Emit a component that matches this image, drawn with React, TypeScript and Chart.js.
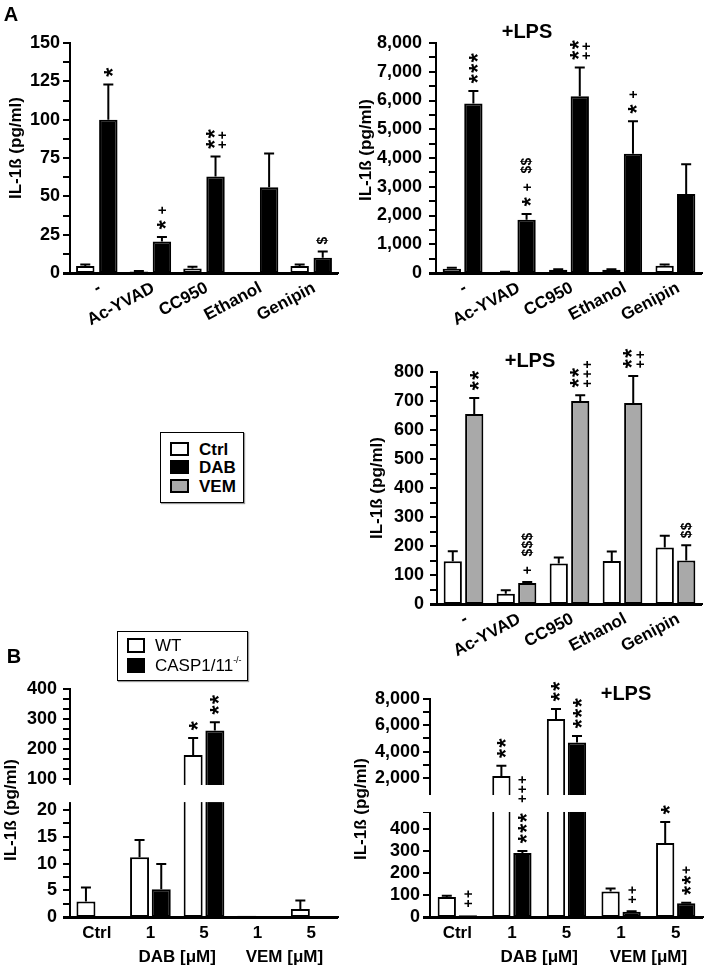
import React, { useEffect, useRef } from 'react';
import { Chart, registerables, LinearScale } from 'chart.js';

Chart.register(...registerables);

const FONT = "'Liberation Sans', Arial, Helvetica, sans-serif";
const Y_TITLE = 'IL-1ß (pg/ml)';
const WHITE = '#ffffff';
const BLACK = '#000000';
const GREY = '#a9a9a9';

// ---------------- Panel A data ----------------
const aCategories = ['-', 'Ac-YVAD', 'CC950', 'Ethanol', 'Genipin'];
const noMarks = ['', '', '', '', ''];

// A, top-left (no LPS)
const a1CtrlValues = [4.5, 1, 3, 0.4, 4.5];
const a1CtrlErrors = [1, 0.3, 1, 0, 1];
const a1DabValues = [100, 20.5, 63, 56, 10];
const a1DabErrors = [23, 3, 13, 22, 4];
const a1DabMarks = ['*', '* +', '**|++', '', '$'];
const a1YTickLabels = [0, 25, 50, 75, 100, 125, 150];
const a1YMinorStep = 12.5;

// A, top-right (+LPS, DAB)
const a2CtrlValues = [150, 30, 110, 110, 250];
const a2CtrlErrors = [30, 10, 20, 20, 50];
const a2DabValues = [5900, 1850, 6150, 4150, 2750];
const a2DabErrors = [430, 200, 1000, 1130, 1030];
const a2DabMarks = ['***', '* +  $$', '**|++', '* +', ''];
const a2YTickLabels = [0, 1000, 2000, 3000, 4000, 5000, 6000, 7000, 8000];
const a2YMinorStep = 500;

// A, middle-right (+LPS, VEM)
const a3CtrlValues = [147, 35, 140, 148, 195];
const a3CtrlErrors = [35, 12, 20, 33, 40];
const a3VemValues = [655, 72, 700, 693, 150];
const a3VemErrors = [55, 4, 20, 93, 53];
const a3VemMarks = ['**', '+  $$$', '**|+++', '**|++', '$$'];
const a3YTickLabels = [0, 100, 200, 300, 400, 500, 600, 700, 800];
const a3YMinorStep = 50;

// ---------------- Panel B data ----------------
const bCategories = ['Ctrl', '1', '5', '1', '5'];
const bGroupLabels = ['DAB [μM]', 'VEM [μM]'];
const bGroupFirst = [1, 3];
const bGroupLast = [2, 4];

// B, bottom-left (no LPS), broken axis
const b1WtValues = [2.9, 11.2, 180, 0.25, 1.5];
const b1WtErrors = [2.6, 3.2, 57, 0, 1.6];
const b1KoValues = [0, 5.2, 262, 0, 0];
const b1KoErrors = [0, 4.7, 27, 0, 0];
const b1WtMarks = ['', '', '*', '', ''];
const b1KoMarks = ['', '', '**', '', ''];
const b1YTickLabels = [0, 5, 10, 15, 20, 100, 200, 300, 400];
const b1LowerRange = [0, 21.5];
const b1UpperRange = [80, 400];
const b1LowerMinorStep = 2.5;
const b1UpperMinorStep = 100 / 3;

// B, bottom-right (+LPS), broken axis
const b2WtValues = [90, 2150, 6480, 115, 335];
const b2WtErrors = [6, 780, 760, 14, 95];
const b2KoValues = [8, 290, 4700, 24, 62];
const b2KoErrors = [0, 8, 480, 2, 3];
const b2WtMarks = ['', '**', '**', '', '*'];
const b2KoMarks = ['++', '***  +++', '***', '++', '**+'];
const b2YTickLabels = [0, 100, 200, 300, 400, 2000, 4000, 6000, 8000];
const b2LowerRange = [0, 475];
const b2UpperRange = [700, 8000];
const b2LowerMinorStep = 100;
const b2UpperMinorStep = 1000;

// ---------------- helpers ----------------
function steps(from: number, to: number, step: number): number[] {
  const out: number[] = [];
  for (let i = 0; from + i * step <= to + 1e-9; i++) out.push(+(from + i * step).toFixed(6));
  return out;
}
function fmt(v: number, comma: boolean) {
  const s = String(Math.round(v));
  return comma ? s.replace(/\B(?=(\d{3})+(?!\d))/g, ',') : s;
}

type Seg = { min: number; max: number; start: number; end: number };
const brokenRegistry = new WeakMap<HTMLCanvasElement, { segments: Seg[]; ticks: number[] }>();

class BrokenLinearScale extends LinearScale {
  static id = 'brokenLinear';
  segInfo() {
    return brokenRegistry.get((this as any).chart.canvas)!;
  }
  buildTicks() {
    return this.segInfo().ticks.map((value) => ({ value }));
  }
  getPixelForValue(value: number) {
    if (value === null || value === undefined || Number.isNaN(value)) return NaN;
    const segs = this.segInfo().segments;
    const s = segs.find((sg) => value <= sg.max) || segs[segs.length - 1];
    let dec: number;
    if (value < s.min && s !== segs[0]) dec = s.start;
    else dec = s.start + ((value - s.min) / (s.max - s.min)) * (s.end - s.start);
    return (this as any).getPixelForDecimal(dec);
  }
  getValueForPixel(pixel: number) {
    const dec = (this as any).getDecimalForPixel(pixel);
    const segs = this.segInfo().segments;
    for (const s of segs) {
      if (dec <= s.end) return s.min + (Math.max(0, dec - s.start) / (s.end - s.start)) * (s.max - s.min);
    }
    const s = segs[segs.length - 1];
    return s.min + ((dec - s.start) / (s.end - s.start)) * (s.max - s.min);
  }
}
Chart.register(BrokenLinearScale as any);

type Series = { values: number[]; errors: number[]; marks: string[]; fill: string };
type YSpec =
  | { kind: 'linear'; min: number; max: number; step: number; labels: number[]; comma: boolean }
  | { kind: 'broken'; segments: Seg[]; ticks: number[]; labels: number[]; comma: boolean };
type PanelSpec = {
  key: string;
  canvas: { left: number; top: number; width: number; height: number };
  area: { left: number; top: number; right: number; bottom: number };
  titleCenter: { x: number; y: number };
  categories: string[];
  series: Series[];
  y: YSpec;
  rotate: number;
  catPct: number;
  barPct: number;
  tickPad: number;
  groups?: { labels: string[]; first: number[]; last: number[] };
};

const MARK_GLYPH: Record<string, { size: number; adv: number }> = {
  '*': { size: 23, adv: 10.5 },
  '+': { size: 14, adv: 9.5 },
  $: { size: 14, adv: 8 },
  ' ': { size: 14, adv: 4.5 },
};

function drawColumn(ctx: CanvasRenderingContext2D, text: string, x: number, bottom: number) {
  let y = bottom;
  for (const ch of text) {
    const g = MARK_GLYPH[ch] || { size: 15, adv: 9 };
    const cy = y - g.adv / 2;
    if (ch !== ' ') {
      ctx.font = `bold ${g.size}px ${FONT}`;
      ctx.textAlign = 'left';
      ctx.textBaseline = 'alphabetic';
      const m = ctx.measureText(ch);
      const gx = (m.actualBoundingBoxRight - m.actualBoundingBoxLeft) / 2;
      const gy = (m.actualBoundingBoxDescent - m.actualBoundingBoxAscent) / 2;
      ctx.save();
      ctx.translate(x, cy);
      ctx.rotate(-Math.PI / 2);
      ctx.fillStyle = '#000';
      ctx.fillText(ch, -gx, -gy);
      ctx.restore();
    }
    y -= g.adv;
  }
}

function makeOverlay(spec: PanelSpec) {
  return {
    id: 'overlay_' + spec.key,
    afterDraw(chart: any) {
      const ctx: CanvasRenderingContext2D = chart.ctx;
      const area = chart.chartArea;
      const y = chart.scales.y;
      const x = chart.scales.x;
      ctx.save();
      // axis title
      ctx.save();
      ctx.translate(spec.titleCenter.x - spec.canvas.left, spec.titleCenter.y - spec.canvas.top);
      ctx.rotate(-Math.PI / 2);
      ctx.font = `bold 17px ${FONT}`;
      ctx.fillStyle = '#000';
      ctx.textAlign = 'center';
      ctx.textBaseline = 'middle';
      ctx.fillText(Y_TITLE, 0, 0);
      ctx.restore();
      // x axis line on top of the bar bases
      ctx.fillStyle = '#000';
      ctx.fillRect(area.left - 7, area.bottom - 1, area.right - area.left + 7, 3);
      // axis break
      if (spec.y.kind === 'broken') {
        const segs = spec.y.segments;
        for (let i = 0; i < segs.length - 1; i++) {
          const pLow = y.getPixelForValue(segs[i].max);
          const pHigh = y.getPixelForValue(segs[i + 1].min);
          ctx.fillStyle = '#fff';
          ctx.fillRect(area.left - 10, pHigh, area.right - area.left + 12, pLow - pHigh);
        }
      }
      spec.series.forEach((s, di) => {
        const meta = chart.getDatasetMeta(di);
        s.values.forEach((v, i) => {
          const bar = meta.data[i];
          if (!bar) return;
          const err = s.errors[i];
          const yTop = y.getPixelForValue(v + err);
          if (err > 0) {
            const yBar = y.getPixelForValue(v);
            ctx.strokeStyle = '#000';
            ctx.lineWidth = 2;
            ctx.beginPath();
            ctx.moveTo(bar.x, yBar);
            ctx.lineTo(bar.x, yTop);
            ctx.moveTo(bar.x - 5, yTop);
            ctx.lineTo(bar.x + 5, yTop);
            ctx.stroke();
          }
          const mark = s.marks[i];
          if (mark) {
            const cols = mark.split('|');
            const offs = cols.length === 1 ? [0] : [-5.5, 6.5];
            cols.forEach((c, ci) => drawColumn(ctx, c, bar.x + offs[ci], yTop - 7));
          }
        });
      });
      if (spec.groups) {
        ctx.font = `bold 17px ${FONT}`;
        ctx.fillStyle = '#000';
        ctx.textAlign = 'center';
        ctx.textBaseline = 'middle';
        spec.groups.labels.forEach((t, gi) => {
          const cx = (x.getPixelForValue(spec.groups!.first[gi]) + x.getPixelForValue(spec.groups!.last[gi])) / 2;
          ctx.fillText(t, cx, area.bottom + 40);
        });
      }
      ctx.restore();
    },
  };
}

function buildConfig(spec: PanelSpec): any {
  const { canvas, area } = spec;
  const yLabelSet = spec.y.labels;
  const comma = spec.y.comma;
  const tickCallback = (v: any) => (yLabelSet.some((l) => Math.abs(l - Number(v)) < 1e-6) ? fmt(Number(v), comma) : '');
  const yCommon = {
    grid: {
      drawOnChartArea: false,
      drawTicks: true,
      tickLength: 7,
      color: '#000',
      lineWidth: (c: any) => (c.tick && Math.abs(c.tick.value) < 1e-9 ? 0 : 2),
    },
    border: { display: true, color: '#000', width: 2 },
    ticks: { color: '#000', font: { family: FONT, size: 18, weight: 'bold' }, padding: spec.tickPad, autoSkip: false, callback: tickCallback },
    title: { display: false },
    afterFit: (s: any) => {
      s.width = area.left - canvas.left;
    },
  };
  const yScale =
    spec.y.kind === 'linear'
      ? { ...yCommon, type: 'linear', min: spec.y.min, max: spec.y.max, ticks: { ...yCommon.ticks, stepSize: spec.y.step } }
      : { ...yCommon, type: 'brokenLinear', min: spec.y.segments[0].min, max: spec.y.segments[spec.y.segments.length - 1].max };
  return {
    type: 'bar',
    data: {
      labels: spec.categories,
      datasets: spec.series.map((s) => ({
        data: s.values,
        backgroundColor: s.fill,
        borderColor: '#000',
        borderWidth: 2,
        borderSkipped: false,
        categoryPercentage: spec.catPct,
        barPercentage: spec.barPct,
      })),
    },
    options: {
      animation: false,
      responsive: false,
      maintainAspectRatio: false,
      events: [],
      layout: {
        padding: { left: 0, top: area.top - canvas.top, right: canvas.left + canvas.width - area.right, bottom: 0 },
      },
      plugins: { legend: { display: false }, tooltip: { enabled: false }, title: { display: false } },
      scales: {
        x: {
          type: 'category',
          offset: true,
          grid: { display: false, drawTicks: false },
          border: { display: true, color: '#000', width: 2 },
          ticks: {
            color: '#000',
            font: { family: FONT, size: 17, weight: 'bold' },
            autoSkip: false,
            maxRotation: spec.rotate,
            minRotation: spec.rotate,
            padding: spec.rotate ? 5 : 6,
            labelOffset: spec.rotate ? 3 : 0,
          },
          afterFit: (s: any) => {
            s.height = canvas.top + canvas.height - area.bottom;
          },
        },
        y: yScale,
      },
    },
    plugins: [makeOverlay(spec)],
  };
}

function brokenTicks(lower: number[], lowerStep: number, upper: number[], upperStep: number, upperFirst: number) {
  return [...steps(lower[0], lower[1], lowerStep), ...steps(upperFirst, upper[1], upperStep)];
}

const panels: PanelSpec[] = [
  {
    key: 'a1',
    canvas: { left: 2, top: 0, width: 343, height: 335 },
    area: { left: 70, top: 43, right: 338, bottom: 273 },
    titleCenter: { x: 16, y: 148 },
    categories: aCategories,
    series: [
      { values: a1CtrlValues, errors: a1CtrlErrors, marks: noMarks, fill: WHITE },
      { values: a1DabValues, errors: a1DabErrors, marks: a1DabMarks, fill: BLACK },
    ],
    y: { kind: 'linear', min: 0, max: 150, step: a1YMinorStep, labels: a1YTickLabels, comma: false },
    rotate: 28,
    catPct: 0.86,
    barPct: 0.8,
    tickPad: 3,
  },
  {
    key: 'a2',
    canvas: { left: 352, top: 0, width: 353, height: 335 },
    area: { left: 436, top: 43, right: 702, bottom: 273 },
    titleCenter: { x: 366, y: 150 },
    categories: aCategories,
    series: [
      { values: a2CtrlValues, errors: a2CtrlErrors, marks: noMarks, fill: WHITE },
      { values: a2DabValues, errors: a2DabErrors, marks: a2DabMarks, fill: BLACK },
    ],
    y: { kind: 'linear', min: 0, max: 8000, step: a2YMinorStep, labels: a2YTickLabels, comma: true },
    rotate: 28,
    catPct: 0.81,
    barPct: 0.85,
    tickPad: 7,
  },
  {
    key: 'a3',
    canvas: { left: 363, top: 320, width: 342, height: 345 },
    area: { left: 437, top: 372, right: 702, bottom: 604 },
    titleCenter: { x: 377, y: 488 },
    categories: aCategories,
    series: [
      { values: a3CtrlValues, errors: a3CtrlErrors, marks: noMarks, fill: WHITE },
      { values: a3VemValues, errors: a3VemErrors, marks: a3VemMarks, fill: GREY },
    ],
    y: { kind: 'linear', min: 0, max: 800, step: a3YMinorStep, labels: a3YTickLabels, comma: false },
    rotate: 28,
    catPct: 0.81,
    barPct: 0.85,
    tickPad: 6,
  },
  {
    key: 'b1',
    canvas: { left: 0, top: 640, width: 345, height: 329 },
    area: { left: 70, top: 689, right: 338, bottom: 917 },
    titleCenter: { x: 11, y: 810 },
    categories: bCategories,
    series: [
      { values: b1WtValues, errors: b1WtErrors, marks: b1WtMarks, fill: WHITE },
      { values: b1KoValues, errors: b1KoErrors, marks: b1KoMarks, fill: BLACK },
    ],
    y: {
      kind: 'broken',
      segments: [
        { min: b1LowerRange[0], max: b1LowerRange[1], start: 0, end: 0.504 },
        { min: b1UpperRange[0], max: b1UpperRange[1], start: 0.579, end: 1 },
      ],
      ticks: brokenTicks(b1LowerRange, b1LowerMinorStep, b1UpperRange, b1UpperMinorStep, 100),
      labels: b1YTickLabels,
      comma: false,
    },
    rotate: 0,
    catPct: 0.81,
    barPct: 0.875,
    tickPad: 6,
    groups: { labels: bGroupLabels, first: bGroupFirst, last: bGroupLast },
  },
  {
    key: 'b2',
    canvas: { left: 347, top: 640, width: 358, height: 329 },
    area: { left: 430, top: 699, right: 703, bottom: 917 },
    titleCenter: { x: 361, y: 809 },
    categories: bCategories,
    series: [
      { values: b2WtValues, errors: b2WtErrors, marks: b2WtMarks, fill: WHITE },
      { values: b2KoValues, errors: b2KoErrors, marks: b2KoMarks, fill: BLACK },
    ],
    y: {
      kind: 'broken',
      segments: [
        { min: b2LowerRange[0], max: b2LowerRange[1], start: 0, end: 0.4817 },
        { min: b2UpperRange[0], max: b2UpperRange[1], start: 0.5596, end: 1 },
      ],
      ticks: [...steps(0, 400, b2LowerMinorStep), b2LowerRange[1], ...steps(2000, b2UpperRange[1], b2UpperMinorStep)],
      labels: b2YTickLabels,
      comma: true,
    },
    rotate: 0,
    catPct: 0.77,
    barPct: 0.87,
    tickPad: 3,
    groups: { labels: bGroupLabels, first: bGroupFirst, last: bGroupLast },
  },
];

function BarPanel({ spec }: { spec: PanelSpec }) {
  const ref = useRef<HTMLCanvasElement>(null);
  useEffect(() => {
    const canvas = ref.current!;
    if (spec.y.kind === 'broken') brokenRegistry.set(canvas, { segments: spec.y.segments, ticks: spec.y.ticks });
    const chart = new Chart(canvas, buildConfig(spec));
    return () => chart.destroy();
  }, [spec]);
  const c = spec.canvas;
  return (
    <canvas
      ref={ref}
      width={c.width}
      height={c.height}
      style={{ position: 'absolute', left: c.left, top: c.top, width: c.width, height: c.height }}
    />
  );
}

function CenterText({ x, y, size, weight, children }: { x: number; y: number; size: number; weight: string; children: any }) {
  return (
    <div
      style={{
        position: 'absolute',
        left: x,
        top: y,
        transform: 'translate(-50%, -50%)',
        fontSize: size,
        fontWeight: weight as any,
        lineHeight: 1,
        whiteSpace: 'nowrap',
        color: '#000',
      }}
    >
      {children}
    </div>
  );
}

function LegendRow({ top, fill, label, weight, size, sq }: any) {
  return (
    <>
      <div
        style={{
          position: 'absolute',
          left: sq.left,
          top: top - sq.h / 2,
          width: sq.w,
          height: sq.h,
          boxSizing: 'border-box',
          border: '2px solid #000',
          background: fill,
        }}
      />
      <div
        style={{
          position: 'absolute',
          left: sq.textLeft,
          top: top,
          transform: 'translateY(-50%)',
          fontSize: size,
          fontWeight: weight,
          lineHeight: 1,
          whiteSpace: 'nowrap',
        }}
      >
        {label}
      </div>
    </>
  );
}

export default function App() {
  const sqA = { left: 9, w: 19, h: 14, textLeft: 38 };
  const sqB = { left: 9, w: 18, h: 15, textLeft: 37 };
  return (
    <div
      style={{
        position: 'absolute',
        left: 0,
        top: 0,
        width: 705,
        height: 969,
        background: '#fff',
        fontFamily: FONT,
        overflow: 'hidden',
      }}
    >
      {panels.map((p) => (
        <BarPanel key={p.key} spec={p} />
      ))}
      <CenterText x={11} y={14} size={20} weight="bold">A</CenterText>
      <CenterText x={14} y={656} size={20} weight="bold">B</CenterText>
      <CenterText x={527} y={31} size={20} weight="bold">+LPS</CenterText>
      <CenterText x={530} y={360} size={20} weight="bold">+LPS</CenterText>
      <CenterText x={626} y={693} size={20} weight="bold">+LPS</CenterText>
      <div
        style={{
          position: 'absolute',
          left: 160,
          top: 432,
          width: 84,
          height: 71,
          boxSizing: 'border-box',
          border: '1.5px solid #000',
          boxShadow: '1px 1px 1px #999',
          background: '#fff',
        }}
      >
        <LegendRow top={16} fill={WHITE} label="Ctrl" weight="bold" size={17} sq={sqA} />
        <LegendRow top={34} fill={BLACK} label="DAB" weight="bold" size={17} sq={sqA} />
        <LegendRow top={53} fill={GREY} label="VEM" weight="bold" size={17} sq={sqA} />
      </div>
      <div
        style={{
          position: 'absolute',
          left: 117,
          top: 631,
          width: 131,
          height: 50,
          boxSizing: 'border-box',
          border: '1.5px solid #000',
          boxShadow: '1px 1px 1px #999',
          background: '#fff',
        }}
      >
        <LegendRow top={13} fill={WHITE} label="WT" weight="normal" size={17} sq={sqB} />
        <LegendRow
          top={33}
          fill={BLACK}
          label={
            <span>
              CASP1/11<sup style={{ fontSize: 9, verticalAlign: 'top', position: 'relative', top: -1 }}>-/-</sup>
            </span>
          }
          weight="normal"
          size={17}
          sq={sqB}
        />
      </div>
    </div>
  );
}
